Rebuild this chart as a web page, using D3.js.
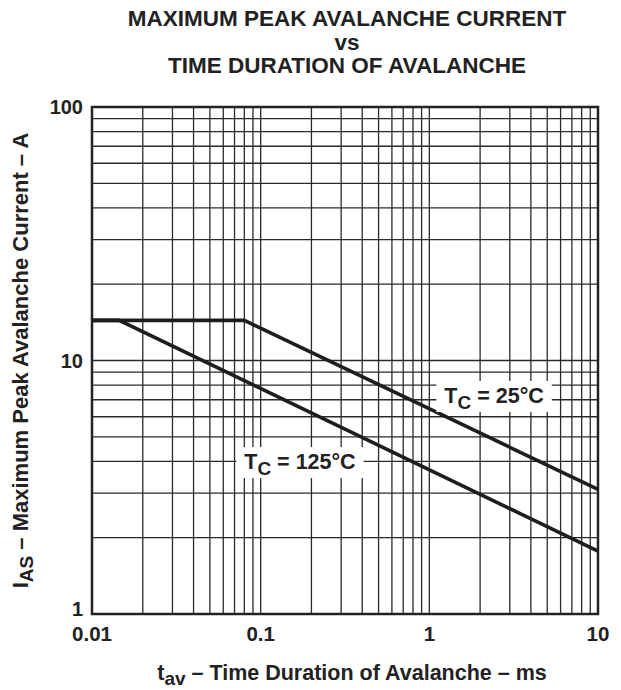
<!DOCTYPE html>
<html><head><meta charset="utf-8">
<script src="https://cdn.jsdelivr.net/npm/d3@7"></script>
<style>body{margin:0;background:#fff}svg{display:block}text{font-family:"Liberation Sans",Arial,sans-serif;font-weight:bold;fill:#222}</style>
</head><body>
<script>
const titleLines = ["MAXIMUM PEAK AVALANCHE CURRENT","vs","TIME DURATION OF AVALANCHE"];
const xTicks = [0.01,0.1,1,10];
const xTickLabels = ["0.01","0.1","1","10"];
const yTicks = [1,10,100];
const yTickLabels = ["1","10","100"];
// T_C = 25°C curve
const t25 = [0.01,0.08,10];
const i25 = [14.4,14.4,3.1];
// T_C = 125°C curve
const t125 = [0.01,0.0145,10];
const i125 = [14.4,14.4,1.77];

const W=621,H=690;
const m={l:92,r:23,t:107,b:76};
const svg=d3.select("body").append("svg").attr("width",W).attr("height",H);
const x=d3.scaleLog().domain([0.01,10]).range([m.l,W-m.r]);
const y=d3.scaleLog().domain([1,100]).range([H-m.b,m.t]);

// grid
const minor=[];
for(let d=0.01; d<10; d*=10){for(let k=1;k<10;k++){minor.push(+(d*k).toPrecision(3));}}
const yminor=[];
for(let d=1; d<100; d*=10){for(let k=1;k<10;k++){yminor.push(+(d*k).toPrecision(3));}}
const g=svg.append("g");
g.selectAll(".vx").data(minor).join("line")
 .attr("x1",d=>x(d)).attr("x2",d=>x(d)).attr("y1",y(1)).attr("y2",y(100))
 .attr("stroke","#2a2a2a").attr("stroke-width",1.3);
g.selectAll(".hy").data(yminor).join("line")
 .attr("y1",d=>y(d)).attr("y2",d=>y(d)).attr("x1",x(0.01)).attr("x2",x(10))
 .attr("stroke","#2a2a2a").attr("stroke-width",1.3);
// border
svg.append("rect").attr("x",x(0.01)).attr("y",y(100)).attr("width",x(10)-x(0.01)).attr("height",y(1)-y(100))
 .attr("fill","none").attr("stroke","#222").attr("stroke-width",2.5);

// curves
const line=d3.line().x(d=>x(d[0])).y(d=>y(d[1]));
[[t25,i25],[t125,i125]].forEach(([t,i])=>{
  svg.append("path").attr("d",line(t.map((v,k)=>[v,i[k]])))
   .attr("fill","none").attr("stroke","#1e1e1e").attr("stroke-width",3.6);
});

// annotations (anchored at text centre / baseline)
function label(xv,yv,sub,rest){
  const gg=svg.append("g");
  const cx=x(xv), by=y(yv);
  const rect=gg.append("rect").attr("fill","#fff");
  const t=gg.append("text").attr("x",cx).attr("y",by).attr("text-anchor","middle").attr("font-size",21.5);
  t.append("tspan").text("T");
  t.append("tspan").attr("dy",6).attr("font-size",19).text(sub);
  t.append("tspan").attr("dy",-6).text(rest);
  const bb=t.node().getBBox();
  rect.attr("x",bb.x-8).attr("y",by-22).attr("width",bb.width+16).attr("height",31);
}
label(2.42,6.8,"C"," = 25°C");
label(0.171,3.73,"C"," = 125°C");

// tick labels
svg.selectAll(".xt").data(xTicks).join("text")
 .attr("x",d=>x(d)).attr("y",y(1)+27).attr("text-anchor","middle").attr("font-size",20.5)
 .text((d,i)=>xTickLabels[i]);
svg.selectAll(".yt").data(yTicks).join("text")
 .attr("x",m.l-9).attr("y",d=>y(d)+(d===1?2:7)).attr("text-anchor","end").attr("font-size",20)
 .text((d,i)=>yTickLabels[i]);

// title
svg.selectAll(".ti").data(titleLines).join("text")
 .attr("x",347).attr("y",(d,i)=>26+i*23.5).attr("text-anchor","middle").attr("font-size",22.5)
 .text(d=>d);

// x title
const xt=svg.append("text").attr("x",352).attr("y",680).attr("text-anchor","middle").attr("font-size",21.5);
xt.append("tspan").text("t");
xt.append("tspan").attr("dy",5).attr("font-size",19).text("av");
xt.append("tspan").attr("dy",-5).text(" – Time Duration of Avalanche – ms");

// y title
const yt=svg.append("text").attr("transform",`translate(28,${(y(1)+y(100))/2}) rotate(-90)`).attr("text-anchor","middle").attr("font-size",22);
yt.append("tspan").text("I");
yt.append("tspan").attr("dy",5).attr("font-size",19).text("AS");
yt.append("tspan").attr("dy",-5).text(" – Maximum Peak Avalanche Current – A");
</script>
</body></html>
